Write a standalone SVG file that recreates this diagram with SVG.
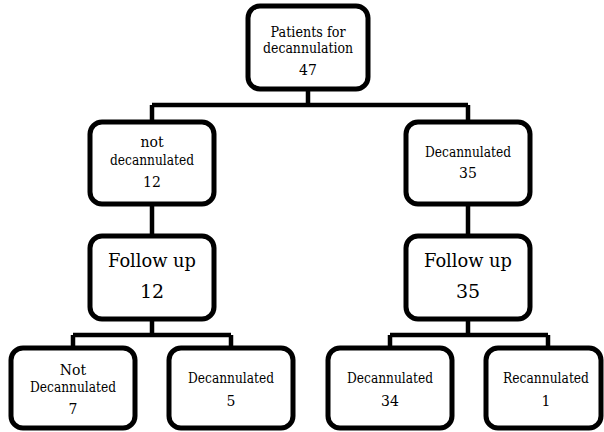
<svg xmlns="http://www.w3.org/2000/svg" width="604" height="432" viewBox="0 0 604 432">
<style>
.box{fill:#fff;stroke:#000;stroke-width:5}
.ln{fill:none;stroke:#000;stroke-width:4.5}
.t{font-family:'DejaVu Serif', 'Liberation Serif', serif;fill:#000;text-anchor:middle;font-size:14px}
.big{font-size:19px}
</style>
<rect width="604" height="432" fill="#fff"/>
<g id="connectors">
<path class="ln" d="M308 89V105M152 105H468M152 105V122M468 105V122"/>
<path class="ln" d="M152 204V236M468 204V236"/>
<path class="ln" d="M152 319V335M73 335H231M73 335V348M231 335V348"/>
<path class="ln" d="M468 319V335M390 335H548M390 335V348M548 335V348"/>
</g>
<g id="n_patients" class="t">
<rect class="box" x="248" y="6" width="120" height="83" rx="12"/>
<text x="308" y="37" textLength="75" lengthAdjust="spacingAndGlyphs">Patients for</text>
<text x="308" y="53" textLength="90" lengthAdjust="spacingAndGlyphs">decannulation</text>
<text x="308" y="75">47</text>
</g>
<g id="n_notdecann" class="t">
<rect class="box" x="90" y="122" width="124" height="82" rx="12"/>
<text x="152" y="147">not</text>
<text x="152" y="165" textLength="84" lengthAdjust="spacingAndGlyphs">decannulated</text>
<text x="152" y="187">12</text>
</g>
<g id="n_decann" class="t">
<rect class="box" x="406" y="122" width="124" height="82" rx="12"/>
<text x="468" y="157" textLength="86" lengthAdjust="spacingAndGlyphs">Decannulated</text>
<text x="468" y="178">35</text>
</g>
<g id="n_follow_left" class="t">
<rect class="box" x="90" y="236" width="124" height="83" rx="12"/>
<text class="big" x="152" y="267" textLength="88" lengthAdjust="spacingAndGlyphs">Follow up</text>
<text class="big" x="152" y="298">12</text>
</g>
<g id="n_follow_right" class="t">
<rect class="box" x="406" y="236" width="124" height="83" rx="12"/>
<text class="big" x="468" y="267" textLength="88" lengthAdjust="spacingAndGlyphs">Follow up</text>
<text class="big" x="468" y="298">35</text>
</g>
<g id="n_b1" class="t">
<rect class="box" x="11" y="348" width="124" height="80" rx="12"/>
<text x="73" y="375">Not</text>
<text x="73" y="392" textLength="86" lengthAdjust="spacingAndGlyphs">Decannulated</text>
<text x="73" y="414">7</text>
</g>
<g id="n_b2" class="t">
<rect class="box" x="169" y="348" width="124" height="80" rx="12"/>
<text x="231" y="383" textLength="86" lengthAdjust="spacingAndGlyphs">Decannulated</text>
<text x="231" y="406">5</text>
</g>
<g id="n_b3" class="t">
<rect class="box" x="328" y="348" width="124" height="80" rx="12"/>
<text x="390" y="383" textLength="86" lengthAdjust="spacingAndGlyphs">Decannulated</text>
<text x="390" y="406">34</text>
</g>
<g id="n_b4" class="t">
<rect class="box" x="486" y="348" width="115" height="80" rx="12"/>
<text x="546" y="383" textLength="86" lengthAdjust="spacingAndGlyphs">Recannulated</text>
<text x="546" y="406">1</text>
</g>
</svg>
